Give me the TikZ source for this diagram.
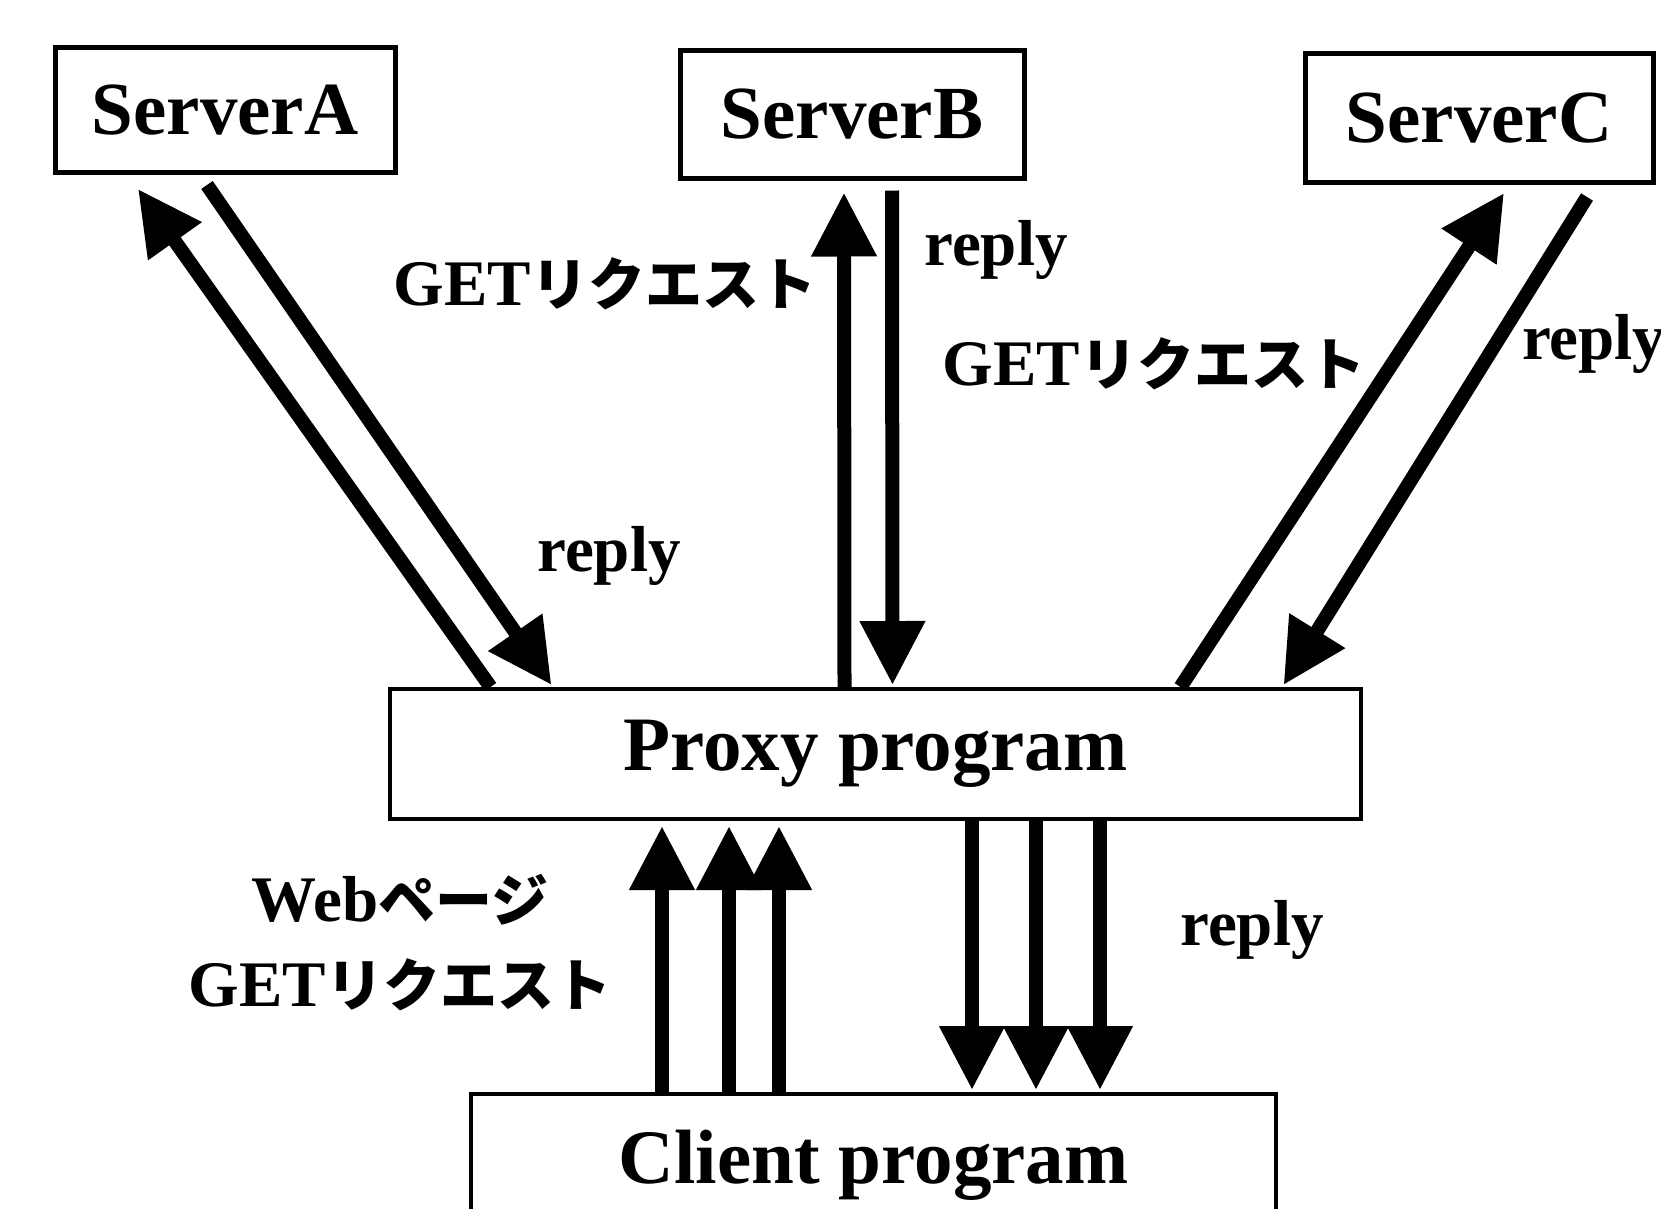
\documentclass[tikz,border=0pt]{standalone}
\usepackage{fontspec}
\setmainfont{Liberation Serif}
\newfontfamily\jpfont{Noto Sans CJK JP}
\usetikzlibrary{arrows.meta}
\newcommand\getreq{GET{\jpfont\fontsize{57}{60}\selectfont リクエスト}}
\begin{document}
\begin{tikzpicture}[x=1pt,y=-1pt,
  box/.style={draw, line width=5pt, inner sep=0pt, font=\fontsize{75}{80}\selectfont\bfseries},
  flow/.style={line width=14pt, -{Triangle[length=64pt,width=62pt]}},
  lbl/.style={font=\fontsize{65}{72}\selectfont\bfseries, inner sep=0pt}]
\useasboundingbox (0,0) rectangle (1661,1208);
\clip (0,0) rectangle (1661,1208);
% boxes
\node[box, minimum width=340pt, minimum height=125pt] (srvA) at (225,110) {ServerA};
\node[box, minimum width=344pt, minimum height=128pt] (srvB) at (852,114) {ServerB};
\node[box, minimum width=348pt, minimum height=129pt] (srvC) at (1479,118) {ServerC};
\node[box, line width=4pt, minimum width=971pt, minimum height=130pt, font=\fontsize{77}{80}\selectfont\bfseries] (proxy) at (875.5,754) {Proxy program};
\node[box, line width=4pt, minimum width=805pt, minimum height=142pt, font=\fontsize{77}{80}\selectfont\bfseries] (client) at (873.5,1165) {Client program};
% server A
\draw[flow] ([xshift=-385pt]proxy.north) -- ([xshift=-87pt,yshift=-14pt]srvA.south);
\draw[flow] ([xshift=-18pt,yshift=-10pt]srvA.south) -- ([xshift=-324pt,yshift=2pt]proxy.north);
% server B
\draw[flow] ([xshift=-31pt]proxy.north) -- ([xshift=-8pt,yshift=-12pt]srvB.south);
\draw[flow] ([xshift=40pt,yshift=-10pt]srvB.south) -- ([xshift=17pt,yshift=2pt]proxy.north);
% server C
\draw[flow] ([xshift=305pt]proxy.north) -- ([xshift=25pt,yshift=-8pt]srvC.south);
\draw[flow] ([xshift=108pt,yshift=-12pt]srvC.south) -- ([xshift=408pt,yshift=2pt]proxy.north);
% client -> proxy
\draw[flow] ([xshift=-211.5pt]client.north) -- ([xshift=-213.5pt,yshift=-5pt]proxy.south);
\draw[flow] ([xshift=-144.5pt]client.north) -- ([xshift=-146.5pt,yshift=-5pt]proxy.south);
\draw[flow] ([xshift=-94.5pt]client.north) -- ([xshift=-96.5pt,yshift=-5pt]proxy.south);
% proxy -> client
\draw[flow] ([xshift=96.5pt]proxy.south) -- ([xshift=98.5pt,yshift=2pt]client.north);
\draw[flow] ([xshift=160.5pt]proxy.south) -- ([xshift=162.5pt,yshift=2pt]client.north);
\draw[flow] ([xshift=224.5pt]proxy.south) -- ([xshift=226.5pt,yshift=2pt]client.north);
% labels
\node[lbl] (lgetB) at (605,284) {\getreq};
\node[lbl] (lrepB) at (996,250) {reply};
\node[lbl] (lgetC) at (1154,364) {\getreq};
\node[lbl, anchor=west] (lrepC) at (1522,344) {reply};
\node[lbl] (lrepA) at (609,556) {reply};
\node[lbl] (lweb) at (400,900) {Web{\jpfont\fontsize{57}{60}\selectfont ページ}};
\node[lbl] (lgetP) at (400,985) {\getreq};
\node[lbl] (lrepP) at (1252,930) {reply};
\end{tikzpicture}
\end{document}
